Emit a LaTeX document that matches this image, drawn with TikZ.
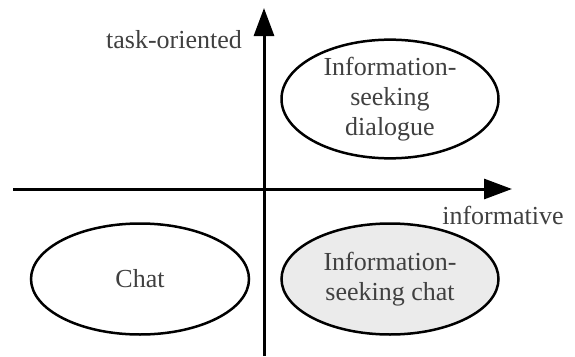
\documentclass[tikz,border=0pt]{standalone}
\usepackage{fontspec}
\setmainfont{Liberation Serif}
\usetikzlibrary{arrows.meta,shapes.geometric}
\definecolor{txt}{HTML}{404040}
\definecolor{shade}{HTML}{EBEBEB}
\tikzset{
  axis/.style={line width=3pt,-{Triangle[length=28pt,width=20pt]}},
  oval/.style={ellipse,draw=black,line width=2.5pt,inner sep=0pt,align=center,text=txt,
    font=\fontsize{26}{30}\selectfont},
  lbl/.style={text=txt,inner sep=0pt,font=\fontsize{26}{30}\selectfont}
}
\begin{document}
\begin{tikzpicture}[x=1pt,y=-1pt]
\useasboundingbox[fill=white] (0,0) rectangle (575,356);
\coordinate (xl) at (13,189);
\coordinate (xr) at (512,189);
\coordinate (yb) at (264,356);
\coordinate (yt) at (264,8);
\draw[axis] (xl) -- (xr);
\draw[axis] (yb) -- (yt);
\node[lbl] (to) at (174,40) {task-oriented};
\node[lbl] (inf) at (503,215) {informative};
\node[oval,minimum width=217pt,minimum height=115pt] (isd) at (390,99) {Information-\\seeking\\dialogue};
\node[oval,minimum width=218pt,minimum height=111pt] (chat) at (140,279) {Chat};
\node[oval,fill=shade,minimum width=217pt,minimum height=111pt] (isc) at (390,279) {Information-\\seeking chat};
\end{tikzpicture}
\end{document}
